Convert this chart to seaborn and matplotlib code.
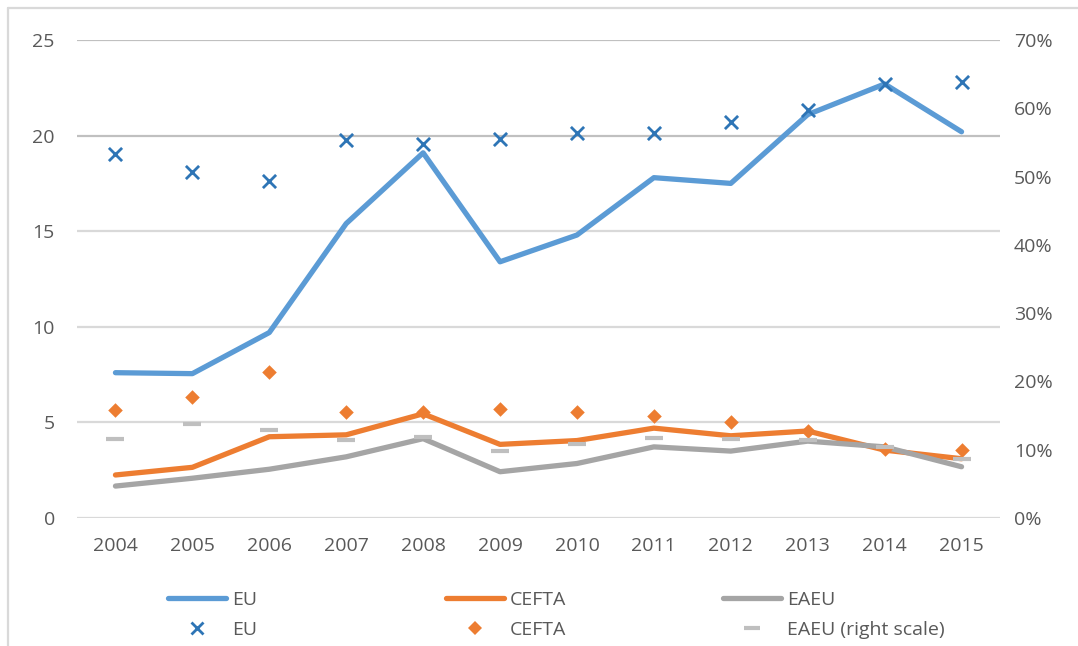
import matplotlib.pyplot as plt
import numpy as np
import pandas as pd
import seaborn as sns
from matplotlib.lines import Line2D
from matplotlib.ticker import PercentFormatter

sns.set_style('white')
plt.rcParams['font.family'] = ['Open Sans', 'DejaVu Sans']

years = ['2004', '2005', '2006', '2007', '2008', '2009', '2010', '2011', '2012', '2013', '2014', '2015']

# lines, left scale
eu_line = [7.6, 7.55, 9.7, 15.4, 19.1, 13.4, 14.8, 17.8, 17.5, 21.1, 22.7, 20.2]
cefta_line = [2.25, 2.65, 4.25, 4.35, 5.45, 3.85, 4.05, 4.7, 4.3, 4.55, 3.55, 3.1]
eaeu_line = [1.67, 2.08, 2.55, 3.2, 4.15, 2.42, 2.85, 3.72, 3.5, 4.02, 3.72, 2.68]

# markers, right scale (share)
eu_share = [0.533, 0.507, 0.493, 0.553, 0.547, 0.555, 0.564, 0.564, 0.580, 0.597, 0.635, 0.638]
cefta_share = [0.158, 0.177, 0.214, 0.155, 0.155, 0.160, 0.155, 0.149, 0.141, 0.127, 0.101, 0.099]
eaeu_share = [0.116, 0.138, 0.129, 0.114, 0.119, 0.098, 0.108, 0.117, 0.116, 0.114, 0.104, 0.086]

df = pd.DataFrame({'year': years, 'EU': eu_line, 'CEFTA': cefta_line, 'EAEU': eaeu_line,
                   'EU_s': eu_share, 'CEFTA_s': cefta_share, 'EAEU_s': eaeu_share})

c_eu = '#5B9BD5'
c_eu_m = '#2E75B6'
c_cefta = '#ED7D31'
c_eaeu = '#A5A5A5'
c_eaeu_m = '#BFBFBF'
txt = '#595959'

fig = plt.figure(figsize=(10.78, 6.46), dpi=100)
ax = fig.add_axes([77 / 1078, 1 - 518 / 646, 923 / 1078, 478 / 646])
ax2 = ax.twinx()

sns.lineplot(data=df, x='year', y='EU', ax=ax, color=c_eu, linewidth=3.8, sort=False)
sns.lineplot(data=df, x='year', y='CEFTA', ax=ax, color=c_cefta, linewidth=3.8, sort=False)
sns.lineplot(data=df, x='year', y='EAEU', ax=ax, color=c_eaeu, linewidth=3.8, sort=False)

sns.scatterplot(data=df, x='year', y='EU_s', ax=ax2, color=c_eu_m, marker='x', s=90, linewidth=2)
sns.scatterplot(data=df, x='year', y='CEFTA_s', ax=ax2, color=c_cefta, marker='D', s=55, linewidth=0)
sns.scatterplot(data=df, x='year', y='EAEU_s', ax=ax2, color=c_eaeu_m, marker='_', s=170, linewidth=3)

ax.set_xlim(-0.5, 11.5)
ax.set_ylim(0, 25)
ax.set_yticks(np.arange(0, 26, 5))
ax2.set_ylim(0, 0.7)
ax2.set_yticks(np.arange(0, 0.71, 0.1))
ax2.yaxis.set_major_formatter(PercentFormatter(1.0, decimals=0))

ax.grid(axis='y', color='#d9d9d9', linewidth=1.6)
for v, gl in zip(ax.get_yticks(), ax.get_ygridlines()):
    if v >= 20:
        gl.set_color('#c0c0c0')
ax.set_axisbelow(True)
ax2.grid(False)

for a in (ax, ax2):
    for s in a.spines.values():
        s.set_visible(False)
    a.set_xlabel('')
    a.set_ylabel('')
    a.tick_params(length=0, labelsize=14, labelcolor=txt)
ax.tick_params(axis='y', pad=16)
ax.tick_params(axis='x', pad=14)
ax2.tick_params(axis='y', pad=10)

# legend: three equal columns, line entry on top, marker entry below
groups = [
    (Line2D([], [], color=c_eu, linewidth=3.8),
     Line2D([], [], color=c_eu_m, marker='x', linestyle='', markersize=9, markeredgewidth=2),
     'EU', 'EU', 160),
    (Line2D([], [], color=c_cefta, linewidth=3.8),
     Line2D([], [], color=c_cefta, marker='D', linestyle='', markersize=7, markeredgewidth=0),
     'CEFTA', 'CEFTA', 438),
    (Line2D([], [], color=c_eaeu, linewidth=3.8),
     Line2D([], [], color=c_eaeu_m, marker='_', linestyle='', markersize=12, markeredgewidth=3),
     'EAEU', 'EAEU (right scale)', 715),
]
for h1, h2, l1, l2, xpix in groups:
    leg = fig.legend([h1, h2], [l1, l2], loc='center left', bbox_to_anchor=(xpix / 1078, 1 - 615 / 646),
                     frameon=False, fontsize=14, handlelength=3.0, handletextpad=0.3,
                     labelspacing=0.6, borderaxespad=0)
    for t in leg.get_texts():
        t.set_color(txt)

# outer chart frame
fig.add_artist(Line2D([8 / 1078, 8 / 1078], [0, 1 - 8 / 646], color='#d9d9d9', linewidth=1.6,
                      transform=fig.transFigure))
fig.add_artist(Line2D([8 / 1078, 1], [1 - 8 / 646, 1 - 8 / 646], color='#d9d9d9', linewidth=1.6,
                      transform=fig.transFigure))

plt.savefig('out.png', dpi=100)
